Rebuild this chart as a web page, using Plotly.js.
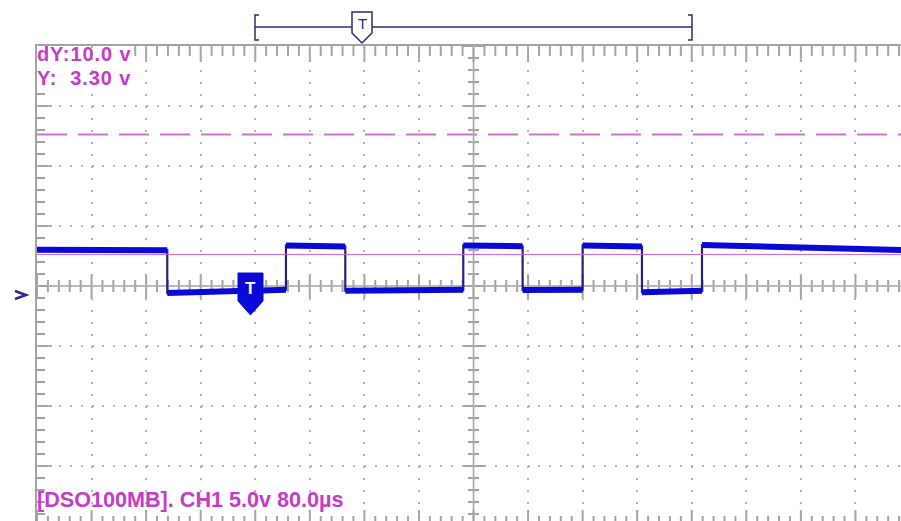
<!DOCTYPE html>
<html>
<head>
<meta charset="utf-8">
<script src="https://cdn.plot.ly/plotly-3.0.1.min.js"></script>
<style>
html,body{margin:0;padding:0;overflow:hidden;background:#fff;}
#chart{width:912px;height:530px;}
</style>
</head>
<body>
<div id="chart"></div>
<script>
const edgeTimesUs = [-640, -449, -275, -188, -15, 72, 160, 247, 335, 640];
const levelStartV = [3.68, 0.08, 4.05, 0.28, 4.05, 0.33, 4.05, 0.15, 4.08];
const levelEndV   = [3.65, 0.35, 3.95, 0.35, 3.98, 0.36, 3.95, 0.28, 3.65];
const triggerLevelV = 3.30;
const cursorY2V = 13.30;
const infoLine1 = 'dY:10.0 v';
const infoLine2 = 'Y:\u00a0\u00a03.30 v';
const footerText = '[DSO100MB]. CH1 5.0v 80.0\u00b5s';

// ---- screen geometry (scope graticule) ----
const timeDivUs = 80, voltDiv = 5;
const xMin = -640, xMax = 640;
const yMin = -19.333, yMax = 20.667;
const yCenter = 0.667;
const W = 912, H = 530, ML = 37, MT = 46, MR = 2, MB = 4;
const plotW = W - ML - MR, plotH = H - MT - MB;
const pxPerUs = plotW / (xMax - xMin);
const pxPerV = plotH / (yMax - yMin);
const px2px = p => (p - ML) / plotW;          // pixel x -> paper
const py2py = p => (MT + plotH - p) / plotH;  // pixel y -> paper
const xOfPx = p => xMin + (p - ML) / pxPerUs;
const yOfPx = p => yMax - (p - MT) / pxPerV;

// waveform traces
const wx = [], wy = [], hx = [], hy = [];
for (let i = 0; i < levelStartV.length; i++) {
  wx.push(edgeTimesUs[i], edgeTimesUs[i + 1]);
  wy.push(levelStartV[i], levelEndV[i]);
  hx.push(edgeTimesUs[i], edgeTimesUs[i + 1], null);
  hy.push(levelStartV[i], levelEndV[i], null);
}

const grey = '#a3a3a3';
const shapes = [];
function seg(x0, y0, x1, y1, color, width, layer) {
  shapes.push({type: 'line', xref: 'x', yref: 'y', x0, y0, x1, y1,
    line: {color, width}, layer: layer || 'below'});
}
// region hidden behind the read-out text (top-left)
const textRightX = xOfPx(134), textBottomY = yOfPx(84);
// vertical ticks along top, bottom and centre horizontal axis
for (let k = -40; k <= 40; k++) {
  const t = k * timeDivUs / 5;
  const major = (k % 5 === 0);
  const lt = (major ? 16 : 10) / pxPerV;
  if (t > textRightX) seg(t, yMax, t, yMax - lt, grey, 2);
  seg(t, yMin, t, yMin + lt, grey, 2);
  const lc = (major ? 12 : 6) / pxPerV;
  seg(t, yCenter - lc, t, yCenter + lc, grey, 2);
}
// horizontal ticks along left edge and centre vertical axis
for (let k = -20; k <= 20; k++) {
  const v = yCenter + k * voltDiv / 5;
  if (v < yMin - 0.01 || v > yMax + 0.01) continue;
  const major = (k % 5 === 0);
  const ll = (major ? 15 : 8) / pxPerUs;
  if (v < textBottomY) seg(xMin, v, xMin + ll, v, grey, 2);
  const lc = (major ? 11 : 5.5) / pxPerUs;
  seg(-lc, v, lc, v, grey, 2);
}
// centre cross
seg(0, yMin, 0, yMax, grey, 1.5);
seg(xMin, yCenter, xMax, yCenter, grey, 1.5);

// cursors
shapes.push({type: 'line', xref: 'paper', yref: 'y', x0: 0, x1: 1, y0: triggerLevelV, y1: triggerLevelV,
  line: {color: '#d25fd2', width: 1}, layer: 'above'});
shapes.push({type: 'line', xref: 'paper', yref: 'y', x0: 0, x1: 1, y0: cursorY2V, y1: cursorY2V,
  line: {color: '#cf72d2', width: 2, dash: '30px,11px'}, layer: 'below'});

// memory bracket at top
const navy = '#2d2d6e';
function ppath(pts, close) {
  return 'M' + pts.map(p => px2px(p[0]).toFixed(5) + ',' + py2py(p[1]).toFixed(5)).join(' L') + (close ? ' Z' : '');
}
function pshape(pts, color, width, fill, close) {
  shapes.push({type: 'path', xref: 'paper', yref: 'paper', path: ppath(pts, close),
    line: {color, width}, fillcolor: fill || 'rgba(0,0,0,0)', layer: 'above'});
}
pshape([[255, 27], [692, 27]], navy, 1.5);
pshape([[259, 15], [255, 15], [255, 40], [259, 40]], navy, 1.5);
pshape([[688, 15], [692, 15], [692, 40], [688, 40]], navy, 1.5);
pshape([[352, 12], [372, 12], [372, 33], [362, 43], [352, 33]], navy, 1.5, '#ffffff', true);
// trigger marker on the trace
pshape([[238, 273], [263, 273], [263, 301], [250.5, 315], [238, 301]], '#0a0ad8', 1, '#0a0ad8', true);
// channel ground marker
pshape([[15, 291], [26, 295], [15, 299]], '#2a2a90', 2.5);

const magenta = '#c43cc8';
const big = s => '<span style="font-size:20px;letter-spacing:0.9px">' + s + '</span>';
const annotations = [
  {xref: 'paper', yref: 'paper', x: px2px(36), y: py2py(66), xanchor: 'left', yanchor: 'middle',
   text: big(infoLine1) + '<br>' + big(infoLine2), align: 'left',
   showarrow: false, borderpad: 0,
   font: {family: 'Liberation Sans, Arial', size: 18.5, color: magenta, weight: 'bold'}},
  {xref: 'paper', yref: 'paper', x: px2px(35), y: py2py(499), xanchor: 'left', yanchor: 'middle',
   text: footerText, showarrow: false,
   font: {family: 'Liberation Sans, Arial', size: 21.6, color: magenta, weight: 'bold'}},
  {xref: 'paper', yref: 'paper', x: px2px(362), y: py2py(24), xanchor: 'center', yanchor: 'middle',
   text: 'T', showarrow: false, font: {family: 'Liberation Sans, Arial', size: 15, color: navy}},
  {xref: 'paper', yref: 'paper', x: px2px(250.5), y: py2py(288), xanchor: 'center', yanchor: 'middle',
   text: 'T', showarrow: false, font: {family: 'Liberation Sans, Arial', size: 17, color: '#ffffff', weight: 'bold'}}
];

const traces = [
  {x: wx, y: wy, type: 'scatter', mode: 'lines', line: {color: '#23237e', width: 2.2},
   hoverinfo: 'skip', showlegend: false},
  {x: hx, y: hy, type: 'scatter', mode: 'lines', line: {color: '#0808d8', width: 6},
   connectgaps: false, hoverinfo: 'skip', showlegend: false}
];

const layout = {
  width: W, height: H,
  margin: {l: ML, r: MR, t: MT, b: MB, pad: 0},
  paper_bgcolor: '#ffffff', plot_bgcolor: '#ffffff',
  showlegend: false,
  xaxis: {range: [xMin, xMax], showgrid: true, tick0: 0, dtick: timeDivUs,
    gridcolor: '#b3b3b3', gridwidth: 2, griddash: '2px,10px',
    showticklabels: false, ticks: '', zeroline: false,
    showline: true, mirror: true, linecolor: grey, linewidth: 2, fixedrange: true},
  yaxis: {range: [yMin, yMax], showgrid: true, tick0: yCenter, dtick: voltDiv,
    gridcolor: '#b3b3b3', gridwidth: 2, griddash: '2px,8.9px',
    showticklabels: false, ticks: '', zeroline: false,
    showline: true, mirror: true, linecolor: grey, linewidth: 2, fixedrange: true},
  shapes, annotations
};

Plotly.newPlot('chart', traces, layout, {displayModeBar: false, staticPlot: true});
</script>
</body>
</html>
